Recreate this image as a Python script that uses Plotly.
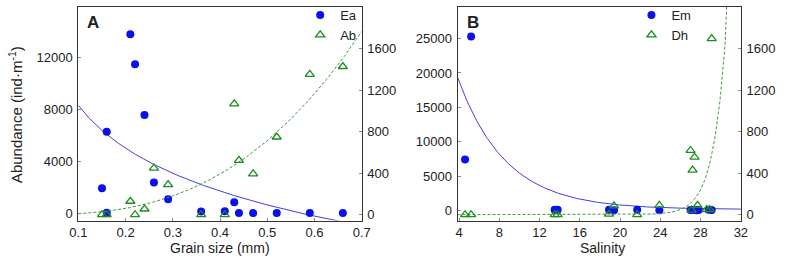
import numpy as np
import plotly.graph_objects as go

# ---------------- Panel A data (grain size) ----------------
grain_ea = [0.15, 0.16, 0.16, 0.21, 0.22, 0.24, 0.26, 0.29, 0.36, 0.41, 0.43, 0.44, 0.47, 0.52, 0.59, 0.66]
ea_vals = [1950, 70, 6300, 13800, 11500, 7600, 2400, 1120, 180, 190, 890, 50, 50, 50, 50, 50]
grain_ab = [0.15, 0.16, 0.21, 0.22, 0.24, 0.26, 0.29, 0.36, 0.41, 0.43, 0.44, 0.47, 0.52, 0.59, 0.66]
ab_vals = [0, 0, 130, 0, 55, 450, 290, 0, 0, 1070, 525, 395, 750, 1355, 1430]

# ---------------- Panel B data (salinity) ----------------
sal_em = [4.6, 5.2, 13.5, 13.8, 18.9, 19.4, 21.7, 23.9, 27.0, 27.3, 27.6, 27.8, 28.8, 29.1]
em_vals = [7400, 25300, 120, 120, 100, 50, 100, 30, 80, 60, 40, 80, 100, 80]
sal_dh = [4.6, 5.2, 13.5, 13.8, 18.9, 19.4, 21.7, 23.9, 27.0, 27.1, 27.2, 27.4, 27.7, 28.6, 28.9, 29.1]
dh_vals = [0, 0, 0, 0, 5, 85, 0, 90, 620, 45, 430, 555, 90, 50, 50, 1700]

# ---------------- Fitted trend-curve coefficients ----------------
ea_fit = [8333, -4757, 0.1]        # y = a + b*ln(x/x0)
ab_fit = [4616, 2.69]              # y = a * x^p
em_fit = [150, 19440, 0.21, 3.8]   # y = c + A*exp(-k (x - x0))
dh_fit = [532, 0.79, 29.0]         # y = A*exp(k (x - x0))

# tick labels
xa_ticks = [0.1, 0.2, 0.3, 0.4, 0.5, 0.6, 0.7]
ya_ticks = [0, 4000, 8000, 12000]
yb_ticks = [0, 5000, 10000, 15000, 20000, 25000]
yr_ticks = [0, 400, 800, 1200, 1600]
xb_ticks = [4, 8, 12, 16, 20, 24, 28, 32]

BLUE = "#0a0ff0"
BLUE_LINE = "#4040e0"
GREEN = "#1f8c1f"
GREEN_LINE = "#3a9a3a"
FONT = "Liberation Sans, Arial, sans-serif"

xg_a = np.linspace(0.1, 0.7, 300)
xg_b = np.linspace(3.85, 32, 400)
ea_curve = ea_fit[0] + ea_fit[1] * np.log(xg_a / ea_fit[2])
ab_curve = ab_fit[0] * xg_a ** ab_fit[1]
em_curve = em_fit[0] + em_fit[1] * np.exp(-em_fit[2] * (xg_b - em_fit[3]))
dh_curve = dh_fit[0] * np.exp(dh_fit[1] * (xg_b - dh_fit[2]))

fig = go.Figure()

# Panel A
fig.add_trace(go.Scatter(x=xg_a, y=ea_curve, mode="lines", line=dict(color=BLUE_LINE, width=1),
                         xaxis="x", yaxis="y", showlegend=False, hoverinfo="skip"))
fig.add_trace(go.Scatter(x=xg_a, y=ab_curve, mode="lines", line=dict(color=GREEN_LINE, width=1, dash="3px,2px"),
                         xaxis="x", yaxis="y2", showlegend=False, hoverinfo="skip"))
fig.add_trace(go.Scatter(x=grain_ea, y=ea_vals, mode="markers", name="Ea",
                         marker=dict(color=BLUE, size=8, symbol="circle"),
                         xaxis="x", yaxis="y", legend="legend"))
fig.add_trace(go.Scatter(x=grain_ab, y=ab_vals, mode="markers", name="Ab",
                         marker=dict(color=GREEN, size=8, symbol="triangle-up-open", line=dict(width=1.3, color=GREEN)),
                         xaxis="x", yaxis="y2", legend="legend"))

# Panel B
fig.add_trace(go.Scatter(x=xg_b, y=em_curve, mode="lines", line=dict(color=BLUE_LINE, width=1),
                         xaxis="x2", yaxis="y3", showlegend=False, hoverinfo="skip"))
fig.add_trace(go.Scatter(x=xg_b, y=dh_curve, mode="lines", line=dict(color=GREEN_LINE, width=1, dash="3px,2px"),
                         xaxis="x2", yaxis="y4", showlegend=False, hoverinfo="skip"))
fig.add_trace(go.Scatter(x=sal_em, y=em_vals, mode="markers", name="Em",
                         marker=dict(color=BLUE, size=8, symbol="circle"),
                         xaxis="x2", yaxis="y3", legend="legend2"))
fig.add_trace(go.Scatter(x=sal_dh, y=dh_vals, mode="markers", name="Dh",
                         marker=dict(color=GREEN, size=8, symbol="triangle-up-open", line=dict(width=1.3, color=GREEN)),
                         xaxis="x2", yaxis="y4", legend="legend2"))

W, H = 787, 263
ydom = [41 / H, 258 / H]
axis_common = dict(showline=True, linecolor="#333333", linewidth=1, ticks="inside", ticklen=3,
                   tickcolor="#888888", showgrid=False, zeroline=False,
                   tickfont=dict(family=FONT, size=13, color="#222222"))

fig.update_layout(
    width=W, height=H,
    margin=dict(l=0, r=0, t=0, b=0),
    paper_bgcolor="white", plot_bgcolor="white",
    font=dict(family=FONT, size=13, color="#222222"),
    xaxis=dict(domain=[71 / W, 361 / W], range=[0.1, 0.7], tickvals=xa_ticks, tickformat=".1f",
               anchor="y", mirror=True, ticklabelstandoff=0, **axis_common),
    yaxis=dict(domain=ydom, range=[-530, 15900], tickvals=ya_ticks, tickformat="d", anchor="x",
               ticklabelstandoff=2, **axis_common),
    yaxis2=dict(domain=ydom, range=[-57, 2005], tickvals=yr_ticks, tickformat="d", anchor="x",
                overlaying="y", side="right", ticklabelstandoff=2, **axis_common),
    xaxis2=dict(domain=[459 / W, 749 / W], range=[3.85, 32], tickvals=xb_ticks, tickformat="d",
                anchor="y3", mirror=True, ticklabelstandoff=0, **axis_common),
    yaxis3=dict(domain=ydom, range=[-1475, 29600], tickvals=yb_ticks, tickformat="d", anchor="x2",
                ticklabelstandoff=2, **axis_common),
    yaxis4=dict(domain=ydom, range=[-57, 2005], tickvals=yr_ticks, tickformat="d", anchor="x2",
                overlaying="y3", side="right", ticklabelstandoff=2, **axis_common),
    legend=dict(x=298 / W, y=1 + 2 / H, xanchor="left", yanchor="top", bgcolor="rgba(0,0,0,0)",
                font=dict(family=FONT, size=13), borderwidth=0),
    legend2=dict(x=637 / W, y=1 + 2 / H, xanchor="left", yanchor="top", bgcolor="rgba(0,0,0,0)",
                 font=dict(family=FONT, size=13), borderwidth=0),
)


def label(text, px, py, size, angle=0):
    fig.add_annotation(text=text, x=px / W, y=1 - py / H, xref="paper", yref="paper",
                       xanchor="center", yanchor="middle", showarrow=False, textangle=angle,
                       font=dict(family=FONT, size=size, color="#222222"))


label("<b>A</b>", 86, 21, 17)
label("<b>B</b>", 475, 21, 17)
label("Abundance (ind·m<sup>-1</sup>)", 6, 114, 15, angle=-90)
label("Grain size (mm)", 216, 250, 14)
label("Salinity", 607, 250, 14)

fig.write_html("out.html", config={"displayModeBar": False},
               post_script="document.body.style.margin='0px';")
